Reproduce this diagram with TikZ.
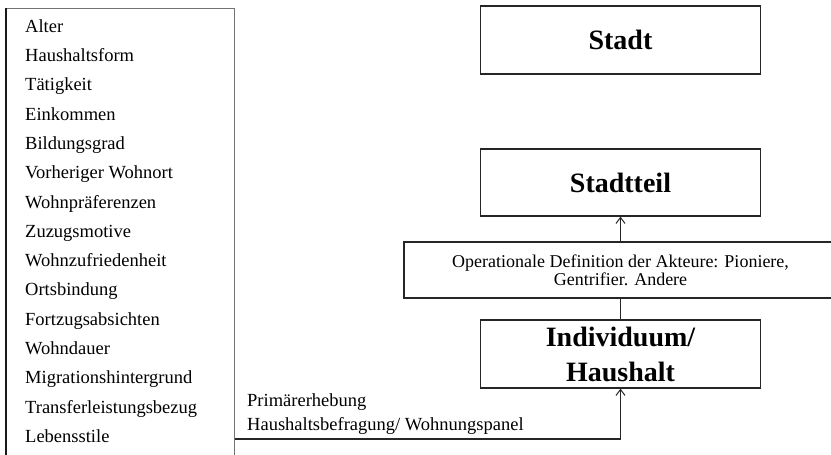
\documentclass[tikz,border=0pt]{standalone}
\usepackage{fontspec}
\setmainfont{Liberation Serif}
\usetikzlibrary{arrows.meta}
\begin{document}
\begin{tikzpicture}[x=1pt,y=-1pt,
  box/.style={draw=black!85, line width=1.3pt, minimum width=280pt, minimum height=68pt, inner sep=0pt, font=\fontsize{28}{35}\selectfont\bfseries, align=center},
  item/.style={anchor=mid west, inner sep=0pt, font=\fontsize{18.5}{22}\selectfont},
  lbl/.style={anchor=base west, inner sep=0pt, font=\fontsize{18.5}{22}\selectfont},
  conn/.style={draw=black!85, line width=1.3pt},
  arr/.style={conn, -{Straight Barb[length=6pt,width=9pt,line width=1pt]}}]
\clip (0,0) rectangle (831,455);
\fill[white] (0,0) rectangle (831,455);
% left list box
\node[draw=black!55, line width=1pt, minimum width=228pt, minimum height=470pt, anchor=north west, inner sep=0pt] (list) at (6,8) {};
\draw[black!90, line width=1.6pt] (list.north west) -- (list.south west);
\foreach \t [count=\i from 0] in {Alter,Haushaltsform,Tätigkeit,Einkommen,Bildungsgrad,Vorheriger Wohnort,Wohnpräferenzen,Zuzugsmotive,Wohnzufriedenheit,Ortsbindung,Fortzugsabsichten,Wohndauer,Migrationshintergrund,Transferleistungsbezug,Lebensstile}
  \node[item] (l\i) at (25,{30+\i*29.3}) {\t};
% right boxes
\node[box, minimum height=68pt] (stadt) at (620.5,40) {Stadt};
\node[box, minimum height=67pt] (teil) at (620.5,182.5) {Stadtteil};
\node[box, minimum height=68pt] (indiv) at (620.5,354) {Individuum/\\Haushalt};
\node[draw=black!85, line width=1.3pt, minimum width=433pt, minimum height=56pt, inner sep=0pt, align=center, font=\fontsize{18}{18}\selectfont] (op) at (620.5,270) {Operationale Definition der Akteure: Pioniere,\\Gentrifier. Andere};
% connectors
\draw[arr] (op.north) -- (teil.south);
\draw[conn] (op.south) -- (indiv.north);
\coordinate (hl) at (0,439);
\draw[arr] (list.east |- hl) -| (indiv.south);
% labels
\node[lbl] (p1) at (247,406) {Primärerhebung};
\node[lbl] (p2) at (247,430) {Haushaltsbefragung/ Wohnungspanel};
\end{tikzpicture}
\end{document}
